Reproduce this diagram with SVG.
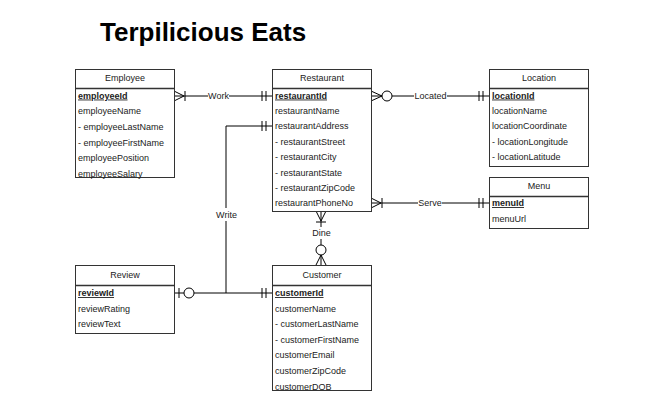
<svg xmlns="http://www.w3.org/2000/svg" width="669" height="407" viewBox="0 0 669 407">
<style>
text{font-family:"Liberation Sans",Arial,sans-serif;font-size:9px;fill:#222}
.title{font-size:26px;font-weight:bold;fill:#000}
.hd{text-anchor:middle}
.pk{font-weight:bold;text-decoration:underline}
.box{fill:#fff;stroke:#333;stroke-width:1}
.sep{stroke:#333;stroke-width:1.5}
.ln{fill:none;stroke:#000;stroke-width:1}
.lbl{text-anchor:middle}
.cir{fill:#fff;stroke:#000;stroke-width:1}
</style>
<rect width="669" height="407" fill="#fff"/>
<text class="title" x="100" y="41">Terpilicious Eats</text>

<g id="connectors">
  <!-- Work -->
  <path class="ln" d="M174,96 H208 M229,96 H272"/>
  <path class="ln" d="M174,91 L184,96 L174,101 M185,91 V101 M262,91 V101 M266,91 V101"/>
  <text class="lbl" x="218.5" y="99">Work</text>
  <!-- Located -->
  <path class="ln" d="M371,96 H382 M392,96 H414 M447,96 H489"/>
  <path class="ln" d="M371,91 L382,96 L371,101 M479,91 V101 M483,91 V101"/>
  <circle class="cir" cx="387" cy="96" r="5"/>
  <text class="lbl" x="430.5" y="99">Located</text>
  <!-- Serve -->
  <path class="ln" d="M371,203 H418 M442,203 H489"/>
  <path class="ln" d="M371,198 L381,203 L371,208 M382,198 V208 M479,198 V208 M483,198 V208"/>
  <text class="lbl" x="430" y="206">Serve</text>
  <!-- Dine -->
  <path class="ln" d="M321,211 V227 M321,239 V245 M321,255 V265"/>
  <path class="ln" d="M316,211 L321,221 L326,211 M316,222 H326 M316,265 L321,255 L326,265"/>
  <circle class="cir" cx="321" cy="250" r="5"/>
  <text class="lbl" x="321.5" y="236">Dine</text>
  <!-- Write -->
  <path class="ln" d="M174,293 H184 M194,293 H272 M226,293 V221 M226,208 V126 H272"/>
  <path class="ln" d="M179,288 V298 M262,288 V298 M266,288 V298 M262,121 V131 M266,121 V131"/>
  <circle class="cir" cx="189" cy="293" r="5"/>
  <text class="lbl" x="226.5" y="218">Write</text>
</g>

<g id="employee">
  <rect class="box" x="75.5" y="69.5" width="99" height="108"/>
  <line class="sep" x1="75.5" y1="88.5" x2="174.5" y2="88.5"/>
  <text class="hd" x="125" y="81">Employee</text>
  <text class="pk" x="78" y="98.5">employeeId</text>
  <text x="78" y="114">employeeName</text>
  <text x="78" y="130">- employeeLastName</text>
  <text x="78" y="145.5">- employeeFirstName</text>
  <text x="78" y="161">employeePosition</text>
  <text x="78" y="176.5">employeeSalary</text>
</g>

<g id="restaurant">
  <rect class="box" x="272.5" y="69.5" width="99" height="142"/>
  <line class="sep" x1="272.5" y1="88.5" x2="371.5" y2="88.5"/>
  <text class="hd" x="322" y="81">Restaurant</text>
  <text class="pk" x="275" y="98.5">restaurantId</text>
  <text x="275" y="113.5">restaurantName</text>
  <text x="275" y="129">restaurantAddress</text>
  <text x="275" y="144.5">- restaurantStreet</text>
  <text x="275" y="160">- restaurantCity</text>
  <text x="275" y="175.5">- restaurantState</text>
  <text x="275" y="190.5">- restaurantZipCode</text>
  <text x="275" y="206">restaurantPhoneNo</text>
</g>

<g id="location">
  <rect class="box" x="489.5" y="69.5" width="99" height="97"/>
  <line class="sep" x1="489.5" y1="88.5" x2="588.5" y2="88.5"/>
  <text class="hd" x="539" y="81">Location</text>
  <text class="pk" x="492" y="98.5">locationId</text>
  <text x="492" y="113.5">locationName</text>
  <text x="492" y="129">locationCoordinate</text>
  <text x="492" y="144.5">- locationLongitude</text>
  <text x="492" y="160">- locationLatitude</text>
</g>

<g id="menu">
  <rect class="box" x="489.5" y="177.5" width="99" height="51"/>
  <line class="sep" x1="489.5" y1="196.5" x2="588.5" y2="196.5"/>
  <text class="hd" x="539" y="189">Menu</text>
  <text class="pk" x="492" y="206">menuId</text>
  <text x="492" y="222">menuUrl</text>
</g>

<g id="review">
  <rect class="box" x="75.5" y="265.5" width="99" height="68"/>
  <line class="sep" x1="75.5" y1="285.5" x2="174.5" y2="285.5"/>
  <text class="hd" x="125" y="277.5">Review</text>
  <text class="pk" x="78" y="296">reviewId</text>
  <text x="78" y="311.5">reviewRating</text>
  <text x="78" y="327">reviewText</text>
</g>

<g id="customer">
  <rect class="box" x="272.5" y="265.5" width="99" height="125"/>
  <line class="sep" x1="272.5" y1="285.5" x2="371.5" y2="285.5"/>
  <text class="hd" x="322" y="277.5">Customer</text>
  <text class="pk" x="275" y="296">customerId</text>
  <text x="275" y="311.5">customerName</text>
  <text x="275" y="327">- customerLastName</text>
  <text x="275" y="342.5">- customerFirstName</text>
  <text x="275" y="358">customerEmail</text>
  <text x="275" y="374">customerZipCode</text>
  <text x="275" y="389.5">customerDOB</text>
</g>
</svg>
